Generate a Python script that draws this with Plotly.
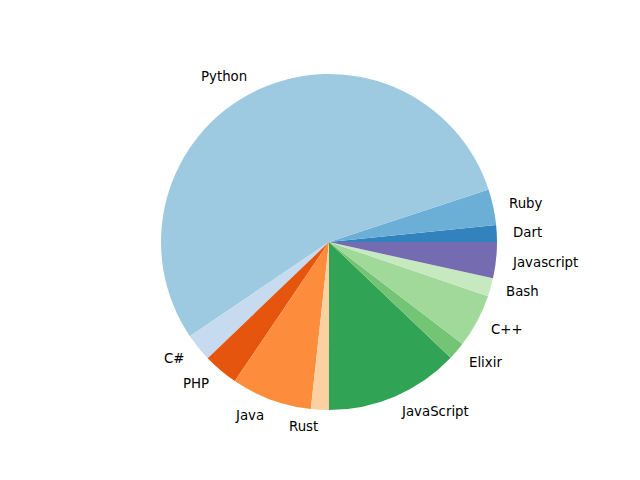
import math
import plotly.graph_objects as go

labels = ["Dart", "Ruby", "Python", "C#", "PHP", "Java", "Rust",
          "JavaScript", "Elixir", "C++", "Bash", "Javascript"]
values = [5.8, 12.45, 195.8, 9.7, 12.1, 27.9, 6.2, 46.4, 6.2, 18.6, 6.3, 12.5]
colors = ["#3182bd", "#6baed6", "#9ecae1", "#c6dbef", "#e6550d", "#fd8d3c",
          "#fdd0a2", "#31a354", "#74c476", "#a1d99b", "#c7e9c0", "#756bb1"]

W, H = 640, 480
OFF = 8  # page body margin
cx, cy, R = 329 - OFF, 242 - OFF, 168

total = sum(values)
first_deg = values[0] / total * 360

fig = go.Figure(go.Pie(
    labels=labels, values=values, sort=False, direction="counterclockwise",
    rotation=90 - first_deg, textinfo="none", hoverinfo="label+percent",
    marker=dict(colors=colors, line=dict(width=0)),
    domain=dict(x=[(cx - R) / W, (cx + R) / W],
                y=[1 - (cy + R) / H, 1 - (cy - R) / H]),
    showlegend=False,
))

start = 0.0
annotations = []
for lab, v in zip(labels, values):
    mid = start + v / total * 360 / 2
    start += v / total * 360
    a = math.radians(mid)
    px = cx + 1.1 * R * math.cos(a)
    py = cy - 1.1 * R * math.sin(a)
    left = math.cos(a) > 0
    annotations.append(dict(
        x=px / W, y=1 - py / H, xref="paper", yref="paper", text=lab,
        showarrow=False, xanchor="left" if left else "right",
        xshift=-2 if left else 0, borderpad=0,
        yanchor="middle", font=dict(family="DejaVu Sans", size=13.33, color="#000000")))

fig.update_layout(width=W, height=H, margin=dict(l=0, r=0, t=0, b=0),
                  paper_bgcolor="white", plot_bgcolor="white",
                  annotations=annotations)
fig.write_html("out.html")
